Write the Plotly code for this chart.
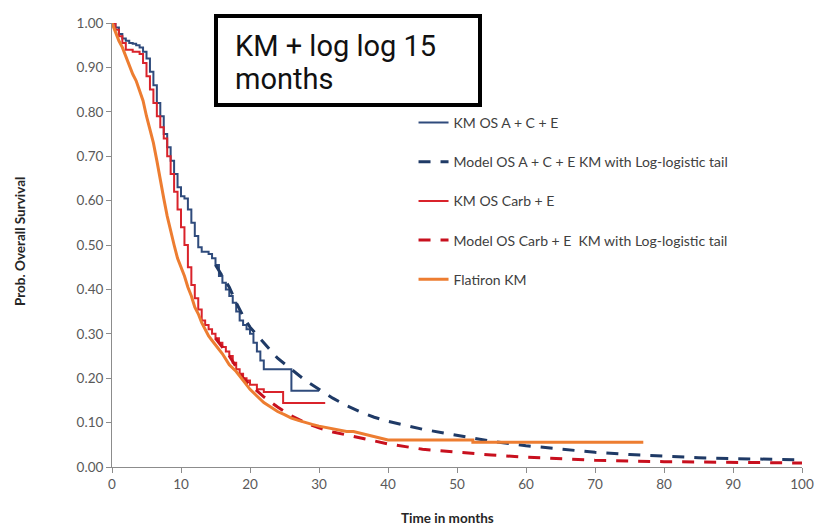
import plotly.graph_objects as go

# ---- data ----
km_ace_t = [0, 0.5, 1, 1.5, 2, 2.5, 3, 3.5, 4, 4.5, 5, 5.5, 6, 6.5, 7, 7.5, 8, 8.5, 9, 9.5,
            10, 10.5, 11, 11.5, 12, 12.5, 13, 13.5, 14, 14.5, 15, 15.5, 16, 16.5, 17, 17.5,
            18, 18.5, 19, 19.5, 20, 20.5, 21, 21.5, 22, 26, 30]
km_ace_s = [1.0, 0.99, 0.975, 0.965, 0.96, 0.955, 0.953, 0.95, 0.945, 0.935, 0.92, 0.89, 0.86,
            0.82, 0.79, 0.75, 0.72, 0.69, 0.66, 0.63, 0.61, 0.605, 0.58, 0.55, 0.52, 0.495,
            0.485, 0.485, 0.48, 0.47, 0.455, 0.43, 0.415, 0.40, 0.385, 0.37, 0.35, 0.33, 0.32,
            0.31, 0.30, 0.28, 0.26, 0.24, 0.22, 0.172, 0.172]

model_ace_t = [15, 16, 17, 18, 19, 20, 22, 24, 26, 28, 30, 32, 34, 36, 38, 40, 45, 50, 55, 60,
               65, 70, 75, 80, 85, 90, 95, 100]
model_ace_s = [0.455, 0.43, 0.405, 0.37, 0.34, 0.315, 0.28, 0.245, 0.22, 0.195, 0.175, 0.155,
               0.138, 0.124, 0.112, 0.103, 0.085, 0.072, 0.058, 0.048, 0.040, 0.033, 0.028,
               0.024, 0.021, 0.019, 0.017, 0.016]

km_ce_t = [0, 0.5, 1, 1.5, 2, 3, 4, 4.5, 5, 5.5, 6, 6.5, 7, 7.5, 8, 8.5, 9, 9.5, 10, 10.5,
           11, 11.5, 12, 12.5, 13, 13.5, 14, 14.5, 15, 15.5, 16, 16.5, 17, 17.5, 18, 18.5,
           19, 19.5, 20, 21, 22, 24.8, 30.9]
km_ce_s = [1.0, 0.985, 0.97, 0.955, 0.94, 0.935, 0.93, 0.91, 0.88, 0.85, 0.82, 0.79, 0.765,
           0.74, 0.70, 0.66, 0.62, 0.58, 0.54, 0.50, 0.45, 0.41, 0.38, 0.355, 0.33, 0.32, 0.31,
           0.30, 0.29, 0.28, 0.27, 0.26, 0.25, 0.235, 0.22, 0.21, 0.20, 0.195, 0.185, 0.175,
           0.169, 0.144, 0.144]

model_ce_t = [15, 16, 17, 18, 19, 20, 22, 24, 26, 28, 30, 32, 34, 36, 38, 40, 45, 50, 55, 60,
              65, 70, 80, 90, 100]
model_ce_s = [0.29, 0.27, 0.25, 0.225, 0.20, 0.185, 0.158, 0.135, 0.115, 0.10, 0.088, 0.079,
              0.072, 0.065, 0.058, 0.052, 0.040, 0.033, 0.027, 0.022, 0.018, 0.015, 0.012,
              0.010, 0.009]

flat_t = [0, 0.5, 1, 1.5, 2, 2.5, 3, 3.5, 4, 4.5, 5, 5.5, 6, 6.5, 7, 7.5, 8, 8.5, 9, 9.5, 10,
          10.5, 11, 11.5, 12, 12.5, 13, 13.5, 14, 14.5, 15, 15.5, 16, 17, 18, 19, 20, 21, 22,
          23, 24, 25, 26, 27, 28, 29, 30, 31, 32, 33, 34, 35, 36, 37, 38, 39, 40, 52.3, 52.3, 77]
flat_s = [1.0, 0.98, 0.96, 0.945, 0.925, 0.905, 0.885, 0.87, 0.845, 0.825, 0.79, 0.76, 0.73,
          0.69, 0.645, 0.605, 0.565, 0.53, 0.50, 0.47, 0.45, 0.43, 0.405, 0.385, 0.36, 0.345,
          0.325, 0.31, 0.295, 0.285, 0.275, 0.265, 0.255, 0.23, 0.215, 0.195, 0.175, 0.16,
          0.145, 0.135, 0.125, 0.118, 0.11, 0.105, 0.10, 0.096, 0.092, 0.089, 0.086, 0.083,
          0.08, 0.08, 0.076, 0.072, 0.068, 0.065, 0.061, 0.061, 0.056, 0.056]

x_ticks = [0, 10, 20, 30, 40, 50, 60, 70, 80, 90, 100]
y_ticks = [0.0, 0.1, 0.2, 0.3, 0.4, 0.5, 0.6, 0.7, 0.8, 0.9, 1.0]

names = ["KM OS A + C + E",
         "Model OS A + C + E KM with Log-logistic tail",
         "KM OS Carb + E",
         "Model OS Carb + E  KM with Log-logistic tail",
         "Flatiron KM"]
title_lines = ["KM + log log 15", "months"]
x_title = "Time in months"
y_title = "Prob. Overall Survival"

BLUE_KM = "#2F4B7C"
BLUE_MOD = "#1F3A66"
RED_KM = "#D9232B"
RED_MOD = "#C8101E"
ORANGE = "#ED7D31"
FONT = "Lato, Open Sans, sans-serif"

fig = go.Figure()
fig.add_trace(go.Scatter(x=km_ace_t, y=km_ace_s, mode="lines", name=names[0],
                         line=dict(color=BLUE_KM, width=2, shape="hv"), legendgroup="a"))
fig.add_trace(go.Scatter(x=model_ace_t, y=model_ace_s, mode="lines", name=names[1],
                         line=dict(color=BLUE_MOD, width=3, dash="12px,10px"),
                         legendgroup="b"))
fig.add_trace(go.Scatter(x=km_ce_t, y=km_ce_s, mode="lines", name=names[2],
                         line=dict(color=RED_KM, width=2, shape="hv"), legendgroup="c"))
fig.add_trace(go.Scatter(x=model_ce_t, y=model_ce_s, mode="lines", name=names[3],
                         line=dict(color=RED_MOD, width=3, dash="12px,10px"),
                         legendgroup="d"))
fig.add_trace(go.Scatter(x=flat_t, y=flat_s, mode="lines", name=names[4],
                         line=dict(color=ORANGE, width=3), legendgroup="e"))

axis_font = dict(family=FONT, size=13.5, color="#595959")

fig.update_layout(
    width=816, height=527,
    margin=dict(l=112, r=14, t=23, b=60, autoexpand=False),
    paper_bgcolor="white", plot_bgcolor="white",
    font=axis_font,
    showlegend=True,
    legend=dict(x=0.437, y=0.811, xanchor="left", yanchor="top",
                bgcolor="rgba(0,0,0,0)", tracegroupgap=18,
                font=dict(family=FONT, size=14, color="#404040"),
                itemwidth=30),
    xaxis=dict(range=[0, 100], tickvals=x_ticks, ticktext=[str(v) for v in x_ticks],
               showgrid=False, zeroline=False, showline=True, linecolor="#8C8C8C",
               linewidth=1, ticks="outside", ticklen=5, tickcolor="#8C8C8C",
               tickfont=axis_font, automargin=False),
    yaxis=dict(range=[0, 1.0], tickvals=y_ticks, tickformat=".2f",
               showgrid=False, zeroline=False, showline=True, linecolor="#8C8C8C",
               linewidth=1, ticks="outside", ticklen=5, tickcolor="#8C8C8C",
               tickfont=axis_font, automargin=False),
)

# axis titles
fig.add_annotation(xref="paper", yref="paper", x=(447 - 112) / 690, y=(467 - 518) / 444,
                   xanchor="center", yanchor="middle", showarrow=False,
                   text="<b>%s</b>" % x_title,
                   font=dict(family=FONT, size=13.5, color="#262626"))
fig.add_annotation(xref="paper", yref="paper", x=(20 - 112) / 690, y=(467 - 242) / 444,
                   xanchor="center", yanchor="middle", showarrow=False, textangle=-90,
                   text="<b>%s</b>" % y_title,
                   font=dict(family=FONT, size=13.5, color="#262626"))

# boxed title
fig.add_shape(type="rect", xref="paper", yref="paper",
              x0=(216 - 112) / 690, x1=(480 - 112) / 690,
              y0=(467 - 105) / 444, y1=(467 - 16) / 444,
              line=dict(color="black", width=4), fillcolor="white", layer="above")
for line_txt, cy in zip(title_lines, [46, 79]):
    fig.add_annotation(xref="paper", yref="paper", x=(234 - 112) / 690, y=(467 - cy) / 444,
                       xanchor="left", yanchor="middle", showarrow=False, borderpad=0,
                       text=line_txt,
                       font=dict(family="Roboto, Arial, sans-serif", size=29, color="#111111"))

fig.write_html("out.html", post_script="document.body.style.margin='0px';",
               config={"displayModeBar": False})
